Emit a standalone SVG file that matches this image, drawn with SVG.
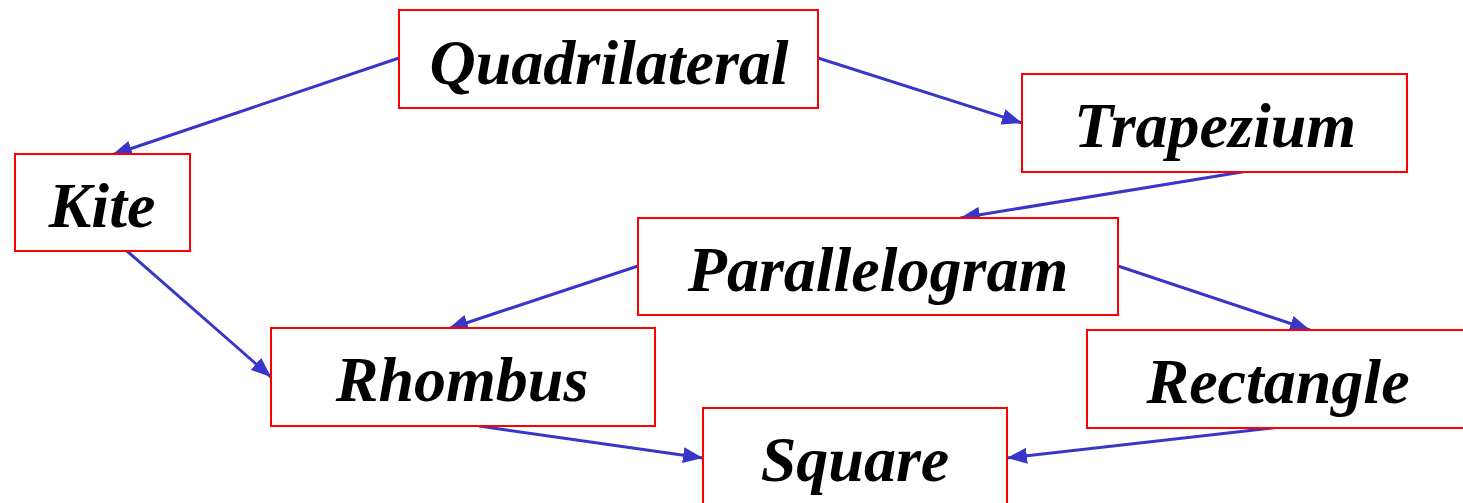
<svg xmlns="http://www.w3.org/2000/svg" width="1463" height="503" viewBox="0 0 1463 503">
<style>
.box{fill:#fff;stroke:#ff0000;stroke-width:2}
.lbl{font-family:"Liberation Serif","Times New Roman",serif;font-weight:bold;font-style:italic;font-size:64px;fill:#000;text-anchor:middle}
.con{stroke:#3636c8;stroke-width:3;fill:none;marker-end:url(#ah)}
</style>
<defs>
<marker id="ah" markerUnits="userSpaceOnUse" markerWidth="22" markerHeight="16" refX="20" refY="8" orient="auto">
<path d="M0,0 L20,8 L0,16 z" fill="#3636c8"/>
</marker>
</defs>
<rect width="1463" height="503" fill="#fff"/>
<g id="connectors">
<line class="con" x1="399" y1="58" x2="112" y2="155"/>
<line class="con" x1="818" y1="58" x2="1022" y2="123"/>
<line class="con" x1="1248" y1="171" x2="960" y2="218"/>
<line class="con" x1="127" y1="251" x2="271" y2="377"/>
<line class="con" x1="638" y1="266" x2="448" y2="329"/>
<line class="con" x1="1118" y1="266" x2="1310" y2="330"/>
<line class="con" x1="479" y1="426" x2="703" y2="458"/>
<line class="con" x1="1280" y1="427" x2="1007" y2="458"/>
</g>
<g id="quadrilateral"><rect class="box" x="399" y="10" width="419" height="98"/><text class="lbl" x="609" y="84">Quadrilateral</text></g>
<g id="trapezium"><rect class="box" x="1022" y="74" width="385" height="98"/><text class="lbl" x="1215" y="147">Trapezium</text></g>
<g id="kite"><rect class="box" x="15" y="154" width="175" height="97"/><text class="lbl" x="102" y="227">Kite</text></g>
<g id="parallelogram"><rect class="box" x="638" y="218" width="480" height="97"/><text class="lbl" x="878" y="291">Parallelogram</text></g>
<g id="rhombus"><rect class="box" x="271" y="328" width="384" height="98"/><text class="lbl" x="462" y="401">Rhombus</text></g>
<g id="rectangle"><rect class="box" x="1087" y="330" width="383" height="98"/><text class="lbl" x="1278" y="403">Rectangle</text></g>
<g id="square"><rect class="box" x="703" y="408" width="304" height="100"/><text class="lbl" x="855" y="481">Square</text></g>
</svg>
